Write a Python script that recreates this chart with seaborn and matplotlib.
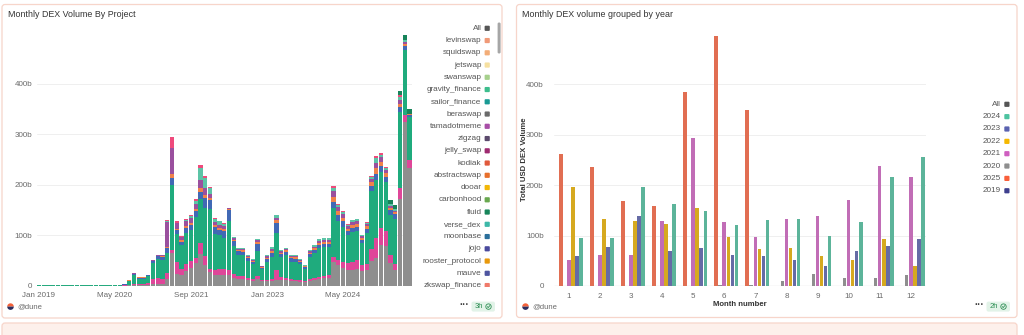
import numpy as np
import pandas as pd
import matplotlib
matplotlib.use("Agg")
import matplotlib.pyplot as plt
import seaborn as sns
from matplotlib.patches import FancyBboxPatch, Rectangle, Wedge, Circle
from matplotlib.ticker import FuncFormatter

sns.set_theme(style="white")
plt.rcParams['font.family'] = ['Liberation Sans', 'DejaVu Sans']

# ---------------- data: monthly DEX volume by project (billions USD), Jan 2019 .. Jul 2025
month_labels = ["Jan 2019", "May 2020", "Sep 2021", "Jan 2023", "May 2024"]
month_label_idx = [0, 16, 32, 48, 64]

gray_vol = [0]*12 + [0, 0, 0, 0, 0, 0, 0, 0.3, 0.5, 0.5, 0.5, 1] + \
    [2, 3, 3, 12, 65, 22, 20, 28, 35, 45, 62, 40] + \
    [27, 21, 20, 20, 20, 15, 12, 12, 10, 9, 12, 8] + \
    [8, 8, 11, 10, 10, 8, 8, 7, 6, 8, 10, 12] + \
    [14, 15, 46, 40, 35, 30, 30, 33, 28, 30, 48, 55] + \
    [80, 78, 45, 30, 172, 325, 233]
pink_vol = [0]*12 + [0, 0, 0, 0, 0, 0, 0.2, 1, 3, 3, 3, 4] + \
    [10, 12, 10, 12, 5, 25, 12, 15, 13, 10, 22, 18] + \
    [6, 10, 12, 12, 11, 8, 6, 6, 5, 4, 6, 3] + \
    [3, 4, 20, 6, 5, 4, 3, 3, 3, 4, 4, 5] + \
    [5, 5, 10, 10, 12, 15, 16, 18, 12, 12, 25, 40] + \
    [34, 30, 15, 12, 22, 13, 17]
green_vol = [0.02, 0.03, 0.04, 0.05, 0.08, 0.1, 0.1, 0.1, 0.1, 0.1, 0.15, 0.15] + \
    [0.3, 0.5, 0.6, 0.4, 0.5, 1.5, 1.6, 7.5, 17, 10, 10, 13] + \
    [32, 38, 38, 40, 129, 55, 48, 62, 62, 80, 88, 95] + \
    [118, 72, 68, 62, 96, 55, 42, 43, 33, 30, 50, 21] + \
    [35, 45, 73, 40, 45, 35, 35, 32, 24, 45, 50, 57] + \
    [58, 57, 97, 78, 70, 55, 60, 58, 45, 62, 115, 115] + \
    [112, 98, 80, 90, 150, 130, 84]
blue_vol = [0]*12 + [0, 0, 0, 0, 0, 0, 0.2, 1, 2.5, 2, 2, 2] + \
    [4, 5, 6, 10, 15, 8, 7, 10, 10, 12, 13, 20] + \
    [19, 14, 10, 15, 23, 10, 8, 6, 6, 4, 15, 3] + \
    [6, 8, 20, 6, 7, 8, 7, 4, 3, 5, 6, 7] + \
    [6, 6, 12, 12, 10, 8, 8, 8, 6, 8, 10, 12] + \
    [12, 10, 10, 10, 10, 8, 5]
orange_vol = [0]*12 + [0, 0, 0, 0, 0, 0, 0, 0.2, 0.5, 0.5, 0.5, 1] + \
    [1.5, 1.5, 2, 2, 8, 3, 3, 4, 4, 5, 8, 6] + \
    [4, 4, 4, 4, 2, 3, 2, 3, 2, 2, 4, 2] + \
    [3, 4, 5, 3, 3, 2, 3, 2, 2, 3, 4, 4] + \
    [4, 4, 10, 8, 7, 5, 6, 6, 4, 6, 7, 12] + \
    [8, 7, 4, 3, 6, 4, 1]
purple_vol = [0]*12 + [0, 0, 0, 0, 0, 0, 0, 0, 0.5, 0, 0, 0] + \
    [1.5, 1.5, 2, 50, 50, 12, 6, 9, 10, 10, 16, 14] + \
    [8, 5, 6, 5, 1, 3, 2, 3, 2, 2, 3, 1] + \
    [3, 4, 5, 3, 3, 2, 2, 2, 1, 3, 3, 4] + \
    [4, 4, 12, 8, 8, 5, 6, 5, 3, 4, 6, 10] + \
    [8, 7, 4, 3, 8, 4, 1]
lightteal_vol = [0]*24 + \
    [0, 0, 0, 2, 0, 0, 0, 2, 3, 6, 25, 20] + \
    [12, 6, 7, 5, 1, 3, 2, 2, 2, 1, 3, 1] + \
    [2, 4, 5, 2, 2, 2, 2, 2, 1, 2, 3, 4] + \
    [4, 4, 6, 4, 4, 3, 3, 3, 2, 3, 4, 8] + \
    [5, 4, 3, 3, 7, 3, 0]
hotpink_vol = [0]*24 + \
    [0, 0, 0, 2, 22, 2, 2, 2, 2, 3, 5, 4] + \
    [2, 1, 1, 1, 0, 0, 0, 0, 0, 0, 0, 0] + \
    [0]*12 + \
    [0, 0, 4, 2, 2, 1, 1, 1, 0, 1, 2, 4] + \
    [3, 2, 0, 0, 2, 0, 0]
fluid_vol = [0]*72 + [0, 0, 8, 8, 8, 10, 9]

projects = ["fluid", "bancor", "kyberswap", "dodo", "balancer",
            "sushiswap", "uniswap", "curve", "pancakeswap"]   # top -> bottom of stack
project_vols = [fluid_vol, hotpink_vol, lightteal_vol, purple_vol, orange_vol,
                blue_vol, green_vol, pink_vol, gray_vol]
project_colors = ["#17845a", "#ef4a7c", "#5cc4a6", "#9a509e", "#f0824a",
                  "#4169b5", "#1fab7d", "#df4699", "#8e8e8e"]

# legend (scrollable list, top of it visible)
legend_names = ["All", "levinswap", "squidswap", "jetswap", "swanswap", "gravity_finance",
                "sailor_finance", "beraswap", "tamadotmeme", "zigzag", "jelly_swap", "kodiak",
                "abstractswap", "dooar", "carbonhood", "fluid", "verse_dex", "moonbase",
                "jojo", "rooster_protocol", "mauve", "zkswap_finance"]
legend_colors = ["#555555", "#f09a78", "#f3ad78", "#f6e0a0", "#a6d08c", "#3dbd8d",
                 "#199a94", "#6a6a6a", "#a84ea7", "#5b4a6c", "#9e2a70", "#e0593b",
                 "#e8702c", "#f2b707", "#69a84f", "#17855a", "#3db8a8", "#2b6f9b",
                 "#4a4a9d", "#e8980b", "#4e55a0", "#f07a6a"]

# ---------------- data: monthly volume grouped by year (billions USD)
months = list(range(1, 13))
vol_2019 = [0.02, 0.03, 0.04, 0.05, 0.08, 0.1, 0.1, 0.1, 0.1, 0.1, 0.15, 0.15]
vol_2020 = [0.3, 0.5, 0.6, 0.4, 0.5, 1.5, 2, 10, 24, 16, 16, 21]
vol_2021 = [51, 61, 61, 128, 294, 127, 98, 132, 139, 171, 239, 217]
vol_2022 = [196, 133, 128, 124, 154, 97, 74, 75, 60, 52, 93, 39]
vol_2023 = [60, 77, 139, 70, 75, 61, 60, 52, 40, 70, 80, 93]
vol_2024 = [95, 95, 197, 162, 148, 122, 130, 132, 100, 126, 217, 256]
vol_2025 = [262, 236, 169, 159, 385, 497, 350]
year_order = ["2019", "2025", "2020", "2021", "2022", "2023", "2024"]
year_colors = {"2019": "#3e3f8e", "2025": "#f95f3a", "2020": "#8e8e8e", "2021": "#cf5fc0",
               "2022": "#f5b800", "2023": "#5a62b0", "2024": "#4dc3a0"}
year_legend = ["All", "2024", "2023", "2022", "2021", "2020", "2025", "2019"]
year_legend_colors = ["#555555", "#4dc3a0", "#5a62b0", "#f5b800", "#cf5fc0",
                      "#8e8e8e", "#f95f3a", "#3e3f8e"]

# ---------------- frames
n_months = len(gray_vol)
rows = []
for name, vals in zip(projects, project_vols):
    for i, v in enumerate(vals):
        rows.append((i, name, v))
df_left = pd.DataFrame(rows, columns=["idx", "project", "volume"])

yr_vals = {"2019": vol_2019, "2020": vol_2020, "2021": vol_2021, "2022": vol_2022,
           "2023": vol_2023, "2024": vol_2024, "2025": vol_2025}
rows = []
for y, vals in yr_vals.items():
    for m, v in zip(months, vals):
        rows.append((m, y, v))
df_right = pd.DataFrame(rows, columns=["month", "year", "volume"])

# ---------------- figure
W, H = 1024, 335
fig = plt.figure(figsize=(W / 100, H / 100), dpi=100)
fig.patch.set_facecolor("white")

bg = fig.add_axes([0, 0, 1, 1], zorder=-1)
bg.set_xlim(0, W); bg.set_ylim(H, 0); bg.axis("off")
border = "#f7d5ca"
bg.add_patch(FancyBboxPatch((2, 4.5), 500, 313.5, boxstyle="round,pad=0,rounding_size=3",
                            fc="white", ec=border, lw=0.9))
bg.add_patch(FancyBboxPatch((516.5, 4.5), 500.5, 313, boxstyle="round,pad=0,rounding_size=3",
                            fc="white", ec=border, lw=0.9))
bg.add_patch(FancyBboxPatch((2, 323), 1015, 20, boxstyle="round,pad=0,rounding_size=3",
                            fc="#fdf0eb", ec=border, lw=0.9))

TICK_FS = 5.8
LEG_FS = 5.9


def fmt_b(v, pos):
    return "0" if v == 0 else f"{int(v)}b"


def style_axes(ax):
    ax.set_facecolor("none")
    for s in ax.spines.values():
        s.set_visible(False)
    ax.set_yticks([0, 100, 200, 300, 400])
    ax.yaxis.set_major_formatter(FuncFormatter(fmt_b))
    ax.grid(axis="y", color="#efefef", lw=0.7)
    ax.grid(axis="x", visible=False)
    ax.set_axisbelow(True)
    ax.tick_params(length=0, labelsize=TICK_FS, colors="#6a6a6a")
    ax.axhline(0, color="#a0a0a0", lw=0.8, zorder=5)


# left chart
ax1 = fig.add_axes([36.6 / W, (H - 285.5) / H, (411.9 - 36.6) / W, (285.5 - 33) / H])
sns.histplot(data=df_left, x="idx", weights="volume", hue="project", hue_order=projects,
             palette=dict(zip(projects, project_colors)), multiple="stack", discrete=True,
             shrink=0.88, linewidth=0, edgecolor="none", alpha=1, legend=False, ax=ax1)
ax1.set_xlim(-0.5, n_months - 0.5)
ax1.set_ylim(0, 501)
style_axes(ax1)
ax1.set_xticks(month_label_idx)
ax1.set_xticklabels(month_labels)
ax1.tick_params(axis="x", pad=5)
ax1.tick_params(axis="y", pad=3)
ax1.set_xlabel(""); ax1.set_ylabel("")

# right chart
ax2 = fig.add_axes([553.5 / W, (H - 286) / H, (926.2 - 553.5) / W, (286 - 33) / H])
sns.barplot(data=df_right, x="month", y="volume", hue="year", hue_order=year_order,
            palette=year_colors, width=0.91, gap=0.08, errorbar=None, legend=False,
            linewidth=0, ax=ax2)
ax2.set_xlim(-0.5, 11.5)
ax2.set_ylim(0, 502)
style_axes(ax2)
ax2.tick_params(axis="x", pad=5)
ax2.tick_params(axis="y", pad=7)
ax2.set_xlabel("Month number", fontsize=5.6, fontweight="bold", color="#333333")
ax2.xaxis.set_label_coords(0.5, (286 - 300.5) / 253)
ax2.set_ylabel("Total USD DEX Volume", fontsize=5.6, fontweight="bold", color="#333333")
ax2.yaxis.set_label_coords((527.5 - 553.5) / 372.7, 0.5)

# foreground overlay
fg = fig.add_axes([0, 0, 1, 1], zorder=10)
fg.set_xlim(0, W); fg.set_ylim(H, 0); fg.axis("off"); fg.patch.set_alpha(0)

fg.text(8, 14.5, "Monthly DEX Volume By Project", fontsize=6.4, color="#333333", va="center")
fg.text(522.5, 14.5, "Monthly DEX volume grouped by year", fontsize=6.4, color="#333333",
        va="center")

clip = Rectangle((415, 18), 85, 268.5, transform=fg.transData, visible=False)
fg.add_patch(clip)
for i, (nm, c) in enumerate(zip(legend_names, legend_colors)):
    y = 28.3 + 12.25 * i
    t = fg.text(481.5, y, nm, ha="right", va="center", fontsize=LEG_FS, color="#555555")
    t.set_clip_path(clip)
    r = FancyBboxPatch((484.6, y - 2.6), 5.2, 5.2, boxstyle="round,pad=0,rounding_size=1",
                       fc=c, ec="none")
    fg.add_patch(r)
    r.set_clip_path(clip)
fg.add_patch(FancyBboxPatch((497.6, 22.5), 3, 31, boxstyle="round,pad=0,rounding_size=1.4",
                            fc="#a6a6a6", ec="none"))

for i, (nm, c) in enumerate(zip(year_legend, year_legend_colors)):
    y = 104.3 + 12.35 * i
    fg.text(1000.5, y, nm, ha="right", va="center", fontsize=LEG_FS, color="#555555")
    fg.add_patch(FancyBboxPatch((1004.3, y - 2.6), 5.2, 5.2,
                                boxstyle="round,pad=0,rounding_size=1", fc=c, ec="none"))


def footer(x0, xdots, xbadge, label):
    yc = 306.6
    fg.add_patch(Wedge((x0, yc), 3.3, 180, 360, fc="#f4623a", ec="none"))
    fg.add_patch(Wedge((x0, yc), 3.3, 0, 180, fc="#2b2d5e", ec="none"))
    fg.text(x0 + 6.5, yc, "@dune", fontsize=5.5, color="#6a6a6a", va="center")
    fg.text(xdots, yc - 1.5, "···", fontsize=7, color="#444444", va="center", ha="center",
            fontweight="bold")
    fg.add_patch(FancyBboxPatch((xbadge, yc - 5), 23.5, 10,
                                boxstyle="round,pad=0,rounding_size=2", fc="#e2f3e8", ec="none"))
    fg.text(xbadge + 7, yc, label, fontsize=5.5, color="#2f8f55", va="center", ha="center")
    fg.add_patch(Circle((xbadge + 17, yc), 2.7, fc="none", ec="#2f8f55", lw=0.6))
    fg.plot([xbadge + 15.8, xbadge + 16.7, xbadge + 18.3], [yc, yc + 1.0, yc - 1.0],
            color="#2f8f55", lw=0.6)


footer(10.5, 464, 471.5, "3h")
footer(525.5, 979, 986.5, "2h")

fig.savefig("out.png", dpi=100, facecolor="white")
